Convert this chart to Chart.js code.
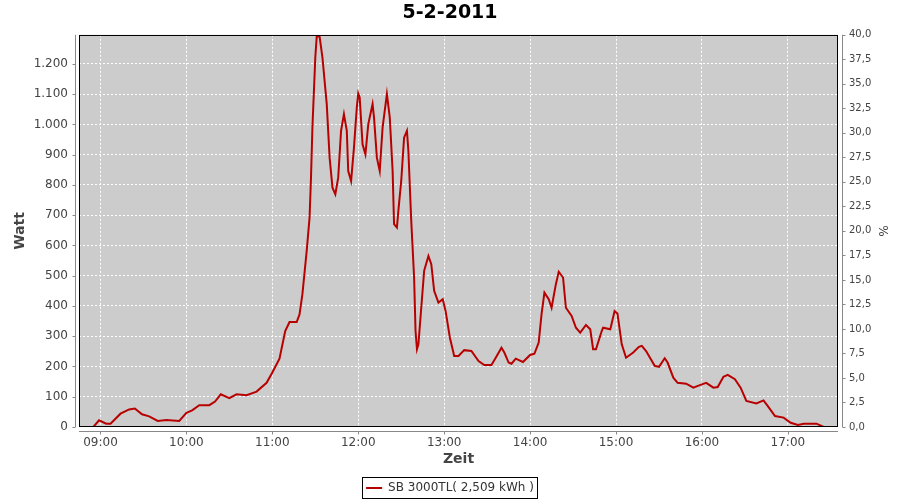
<!DOCTYPE html>
<html>
<head>
<meta charset="utf-8">
<title>5-2-2011</title>
<script src="https://cdn.jsdelivr.net/npm/chart.js@4"></script>
<style>
  html, body { margin: 0; padding: 0; background: #fff; }
  #wrap { width: 900px; height: 500px; }
</style>
</head>
<body>
<div id="wrap"><canvas id="power"></canvas></div>
<script>
// readings of the day, Zeit (HH:MM) and Watt
const times = [
  '08:55', '08:59', '09:04', '09:07', '09:14', '09:20', '09:24', '09:29', '09:34', '09:40',
  '09:46', '09:55', '10:00', '10:04', '10:09', '10:16', '10:20', '10:24', '10:30', '10:35',
  '10:42', '10:49', '10:56', '11:00', '11:05', '11:09', '11:12', '11:17', '11:19', '11:21',
  '11:24', '11:26', '11:27', '11:28', '11:30', '11:31', '11:33', '11:35', '11:38', '11:40',
  '11:42', '11:44', '11:46', '11:48', '11:50', '11:52', '11:53', '11:55', '11:57', '11:59',
  '12:00', '12:01', '12:03', '12:05', '12:07', '12:10', '12:11', '12:13', '12:15', '12:17',
  '12:20', '12:22', '12:24', '12:25', '12:27', '12:28', '12:30', '12:32', '12:34', '12:35',
  '12:37', '12:39', '12:40', '12:41', '12:42', '12:44', '12:46', '12:49', '12:51', '12:53',
  '12:56', '12:59', '13:01', '13:04', '13:07', '13:10', '13:14', '13:19', '13:24', '13:28',
  '13:33', '13:36', '13:40', '13:42', '13:45', '13:47', '13:50', '13:55', '14:00', '14:03',
  '14:06', '14:08', '14:10', '14:13', '14:15', '14:18', '14:20', '14:23', '14:25', '14:29',
  '14:32', '14:35', '14:39', '14:42', '14:44', '14:46', '14:50', '14:51', '14:56', '14:59',
  '15:01', '15:04', '15:07', '15:12', '15:16', '15:18', '15:21', '15:27', '15:30', '15:34',
  '15:36', '15:40', '15:43', '15:49', '15:54', '15:59', '16:03', '16:08', '16:11', '16:15',
  '16:18', '16:23', '16:27', '16:31', '16:38', '16:43', '16:46', '16:51', '16:57', '17:02',
  '17:07', '17:11', '17:20', '17:25'
];
const watts = [
  0, 22, 11, 11, 44, 58, 61, 42, 35, 20,
  23, 20, 47, 55, 72, 72, 84, 108, 95, 108,
  105, 117, 146, 180, 226, 317, 347, 347, 372, 439,
  582, 692, 824, 990, 1221, 1290, 1290, 1221, 1067, 890,
  791, 769, 824, 979, 1034, 979, 846, 813, 923, 1056,
  1102, 1089, 934, 901, 1001, 1067, 1023, 890, 846, 990,
  1100, 1023, 846, 670, 659, 714, 813, 956, 979, 912,
  681, 494, 317, 257, 273, 394, 516, 565, 538, 450,
  411, 422, 383, 295, 235, 235, 254, 251, 218, 205,
  205, 229, 262, 246, 213, 209, 226, 215, 238, 242,
  279, 373, 444, 422, 394, 472, 513, 494, 394, 367,
  328, 312, 337, 323, 257, 257, 317, 328, 323, 383,
  375, 273, 229, 246, 265, 268, 251, 202, 199, 227,
  213, 163, 146, 143, 130, 139, 146, 130, 132, 166,
  172, 158, 130, 86, 78, 88, 69, 36, 31, 14,
  7, 11, 11, 0
];

const hourTicks = [540, 600, 660, 720, 780, 840, 900, 960, 1020];
const wattTicks = [0, 100, 200, 300, 400, 500, 600, 700, 800, 900, 1000, 1100, 1200];
const percentTicks = [0, 2.5, 5, 7.5, 10, 12.5, 15, 17.5, 20, 22.5, 25, 27.5, 30, 32.5, 35, 37.5, 40];

const seriesName = 'SB 3000TL( 2,509 kWh )';

function toMinutes(t) {
  const p = t.split(':');
  return Number(p[0]) * 60 + Number(p[1]);
}
function two(n) { return (n < 10 ? '0' : '') + n; }

const points = times.map((t, i) => ({ x: toMinutes(t), y: watts[i] }));

// plot background, frame, offset axis lines and legend box
const plotFrame = {
  id: 'plotFrame',
  beforeDraw(chart) {
    const a = chart.chartArea, ctx = chart.ctx;
    ctx.save();
    ctx.fillStyle = '#cccccc';
    ctx.fillRect(a.left, a.top, a.right - a.left, a.bottom - a.top);
    ctx.restore();
  },
  afterDraw(chart) {
    const a = chart.chartArea, ctx = chart.ctx;
    ctx.save();
    ctx.strokeStyle = '#000';
    ctx.lineWidth = 1;
    ctx.strokeRect(Math.round(a.left) + 0.5, Math.round(a.top) + 0.5,
      Math.round(a.right - a.left) - 1, Math.round(a.bottom - a.top) - 1);

    ctx.strokeStyle = '#888';
    ctx.beginPath();
    const lx = Math.round(a.left) - 3.5, rx = Math.round(a.right) + 4.5, by = Math.round(a.bottom) + 4.5;
    ctx.moveTo(lx, a.top); ctx.lineTo(lx, a.bottom);
    ctx.moveTo(rx, a.top); ctx.lineTo(rx, a.bottom);
    ctx.moveTo(a.left, by); ctx.lineTo(a.right, by);
    const y = chart.scales.y, y1 = chart.scales.y1, x = chart.scales.x;
    y.ticks.forEach(t => {
      const py = Math.round(y.getPixelForValue(t.value)) + 0.5;
      ctx.moveTo(lx, py); ctx.lineTo(lx - 3, py);
    });
    y1.ticks.forEach(t => {
      const py = Math.round(y1.getPixelForValue(t.value)) + 0.5;
      ctx.moveTo(rx, py); ctx.lineTo(rx + 3, py);
    });
    x.ticks.forEach(t => {
      const px = Math.round(x.getPixelForValue(t.value)) + 0.5;
      ctx.moveTo(px, by); ctx.lineTo(px, by + 3);
    });
    ctx.stroke();

    const hb = chart.legend.legendHitBoxes[0];
    if (hb) {
      ctx.strokeStyle = '#000';
      ctx.strokeRect(Math.round(hb.left) - 3.5, Math.round(hb.top) - 4.5,
        Math.round(hb.width) + 7, Math.round(hb.height) + 9);
    }
    ctx.restore();
  }
};

Chart.defaults.font.family = "'DejaVu Sans', sans-serif";
Chart.defaults.color = '#444';

new Chart(document.getElementById('power'), {
  type: 'line',
  data: {
    datasets: [{
      label: seriesName,
      data: points,
      borderColor: '#b80000',
      backgroundColor: '#b80000',
      borderWidth: 2,
      pointRadius: 0,
      tension: 0,
      yAxisID: 'y'
    }]
  },
  options: {
    responsive: true,
    maintainAspectRatio: false,
    animation: false,
    layout: { padding: { top: 0, left: 0, right: 0, bottom: -4 } },
    plugins: {
      title: {
        display: true,
        text: '5-2-2011',
        color: '#000',
        font: { size: 19, weight: 'bold' },
        padding: { top: 2, bottom: 10 }
      },
      legend: {
        position: 'bottom',
        labels: {
          usePointStyle: true,
          pointStyle: 'line',
          pointStyleWidth: 16,
          padding: 10,
          color: '#333',
          font: { size: 12 }
        }
      },
      tooltip: { enabled: false }
    },
    scales: {
      x: {
        type: 'linear',
        min: 525,
        max: 1055,
        afterFit(scale) { scale.height = 45; },
        afterBuildTicks(scale) { scale.ticks = hourTicks.map(v => ({ value: v })); },
        ticks: {
          padding: 9,
          font: { size: 12 },
          maxRotation: 0,
          callback: v => two(Math.floor(v / 60)) + ':' + two(v % 60)
        },
        grid: { color: '#fff', drawTicks: false, tickLength: 0 },
        border: { display: false, dash: [2, 2] },
        title: {
          display: true,
          text: 'Zeit',
          font: { size: 14, weight: 'bold' },
          padding: { top: 0, bottom: 4 }
        }
      },
      y: {
        position: 'left',
        min: 0,
        max: 1296,
        afterFit(scale) { scale.width = 79; },
        afterBuildTicks(scale) { scale.ticks = wattTicks.map(v => ({ value: v })); },
        ticks: {
          padding: 11,
          font: { size: 12 },
          callback: v => v.toLocaleString('de-DE')
        },
        grid: { color: '#fff', drawTicks: false, tickLength: 0 },
        border: { display: false, dash: [2, 2] },
        title: {
          display: true,
          text: 'Watt',
          font: { size: 14, weight: 'bold' },
          padding: { top: 12, bottom: 0 }
        }
      },
      y1: {
        position: 'right',
        min: 0,
        max: 40,
        afterFit(scale) { scale.width = 62; },
        afterBuildTicks(scale) { scale.ticks = percentTicks.map(v => ({ value: v })); },
        ticks: {
          padding: 11,
          font: { size: 10 },
          callback: v => v.toFixed(1).replace('.', ',')
        },
        grid: { drawOnChartArea: false, drawTicks: false, tickLength: 0 },
        border: { display: false },
        title: {
          display: true,
          text: '%',
          font: { size: 12 },
          padding: { top: 11, bottom: 0 }
        }
      }
    }
  },
  plugins: [plotFrame]
});
</script>
</body>
</html>
